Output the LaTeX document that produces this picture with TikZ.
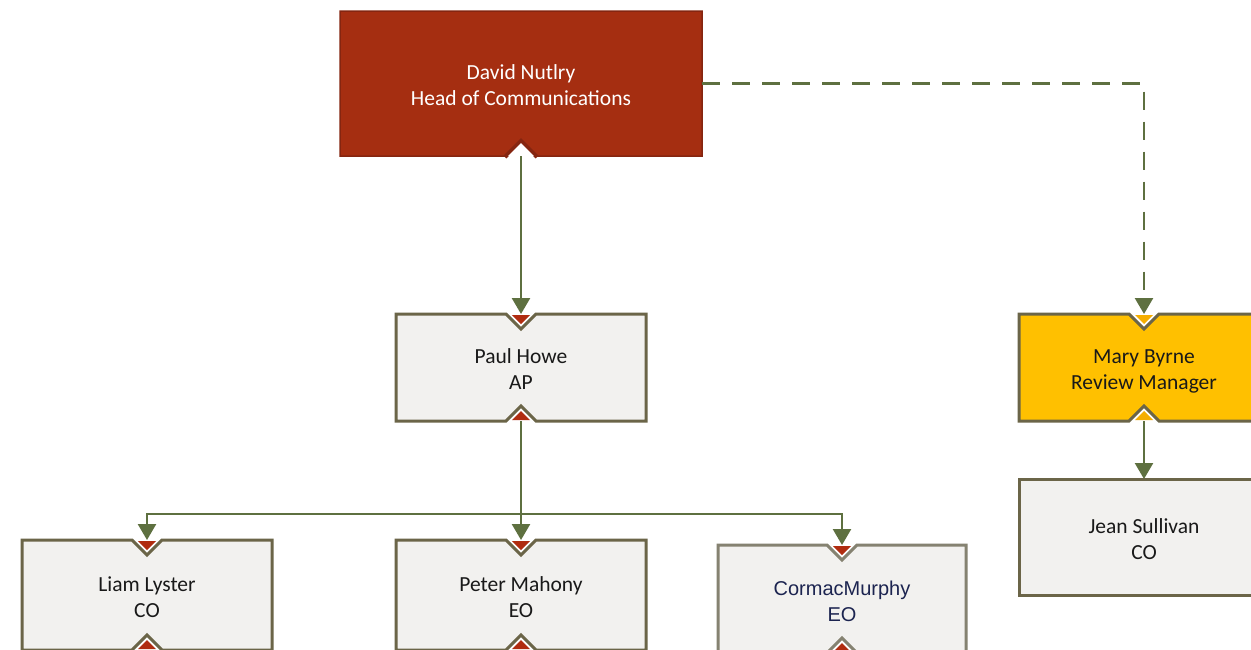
\documentclass[tikz,border=0pt]{standalone}
\usepackage{fontspec}
\setmainfont{Carlito}
\newfontfamily\arialf{Liberation Sans}
\usetikzlibrary{arrows.meta,backgrounds}
\definecolor{redfill}{HTML}{A52E11}
\definecolor{redline}{HTML}{852510}
\definecolor{redtri}{HTML}{B02C10}
\definecolor{boxfill}{HTML}{F2F1EF}
\definecolor{boxline}{HTML}{6B6548}
\definecolor{grayline}{HTML}{858271}
\definecolor{yelfill}{HTML}{FFC000}
\definecolor{yeltri}{HTML}{F5AE00}
\definecolor{lineg}{HTML}{5E7040}
\definecolor{navy}{HTML}{1C2450}
\newcommand{\twolines}[2]{\rule{0pt}{26pt}#1\\#2\rule[-8pt]{0pt}{8pt}}
\newcommand{\OutlineTB}[4]{% node, fill, border, line width
  \filldraw[fill=#2, draw=#3, line width=#4, line join=miter]
    (#1.north west) -- ([xshift=-15pt]#1.north) -- ([yshift=-15pt]#1.north)
    -- ([xshift=15pt]#1.north) -- (#1.north east) -- (#1.south east)
    -- ([xshift=15pt]#1.south) -- ([yshift=15pt]#1.south)
    -- ([xshift=-15pt]#1.south) -- (#1.south west) -- cycle;}
\newcommand{\TriTop}[2]{%
  \fill[#2] ([xshift=-9pt,yshift=-1pt]#1.north) -- ([xshift=9pt,yshift=-1pt]#1.north)
    -- ([yshift=-10pt]#1.north) -- cycle;}
\newcommand{\TriBot}[2]{%
  \fill[#2] ([xshift=-9pt,yshift=1pt]#1.south) -- ([xshift=9pt,yshift=1pt]#1.south)
    -- ([yshift=10pt]#1.south) -- cycle;}
\begin{document}
\begin{tikzpicture}[x=1pt,y=-1pt,
  txt/.style={inner sep=0pt, outer sep=0pt, align=center,
    font=\fontsize{21.5}{26}\selectfont, text=black!90},
  arr/.style={draw=lineg, line width=2.5pt, -{Triangle[width=18pt,length=16pt]}},
  dsh/.style={dash pattern=on 18pt off 12pt}]
\clip (0,0) rectangle (1251,649);

% nodes
\node[txt, text=white, minimum width=362pt, minimum height=145pt] (david) at (521,83.5) {\twolines{David Nutlry}{Head of Communications}};
\node[txt, minimum width=250pt, minimum height=107pt] (paul) at (521,367.5) {\twolines{Paul Howe}{AP}};
\node[txt, minimum width=250pt, minimum height=107pt] (mary) at (1144,367.5) {\twolines{Mary Byrne}{Review Manager}};
\node[txt, minimum width=250pt, minimum height=116pt] (jean) at (1144,537) {\twolines{Jean Sullivan}{CO}};
\node[txt, minimum width=250pt, minimum height=110pt] (liam) at (147,595) {\twolines{Liam Lyster}{CO}};
\node[txt, minimum width=250pt, minimum height=110pt] (peter) at (521,595) {\twolines{Peter Mahony}{EO}};
\node[txt, text=navy, font=\arialf\fontsize{20}{26}\selectfont, minimum width=248pt, minimum height=108pt] (cormac) at (842,599) {\twolines{CormacMurphy}{EO}};

\begin{scope}[on background layer]
  \fill[white] (0,0) rectangle (1251,649);
  % David
  \filldraw[fill=redfill, draw=redline, line width=1.5pt, line join=miter]
    (david.north west) -- (david.north east) -- (david.south east)
    -- ([xshift=14pt]david.south) -- ([yshift=14pt]david.south)
    -- ([xshift=-14pt]david.south) -- (david.south west) -- cycle;
  \draw[redline, line width=4pt, line join=miter] ([xshift=-16pt,yshift=-1pt]david.south) -- ([yshift=15pt]david.south) -- ([xshift=16pt,yshift=-1pt]david.south);
  \fill[white] ([xshift=-13pt]david.south) -- ([yshift=13pt]david.south) -- ([xshift=13pt]david.south) -- cycle;
  \OutlineTB{paul}{boxfill}{boxline}{3pt}
  \OutlineTB{mary}{yelfill}{boxline}{3pt}
  \OutlineTB{liam}{boxfill}{boxline}{3pt}
  \OutlineTB{peter}{boxfill}{boxline}{3pt}
  \OutlineTB{cormac}{boxfill}{grayline}{3pt}
  \filldraw[fill=boxfill, draw=boxline, line width=3pt] (jean.north west) rectangle (jean.south east);
\end{scope}

% connectors
\coordinate (bus) at (521,514);
\draw[arr] (david.south) -- (paul.north);
\draw[arr, dsh] (david.east) -| (mary.north);
\draw[arr] (paul.south) -- (peter.north);
\draw[arr] (paul.south) -- (paul.south |- bus) -| (liam.north);
\draw[arr] (paul.south |- bus) -| (cormac.north);
\draw[arr] (mary.south) -- (jean.north);

% notch triangles
\TriTop{paul}{redtri}
\TriBot{paul}{redtri}
\TriTop{mary}{yeltri}
\TriBot{mary}{yeltri}
\TriTop{liam}{redtri}
\TriBot{liam}{redtri}
\TriTop{peter}{redtri}
\TriBot{peter}{redtri}
\TriTop{cormac}{redtri}
\TriBot{cormac}{redtri}
\end{tikzpicture}
\end{document}
